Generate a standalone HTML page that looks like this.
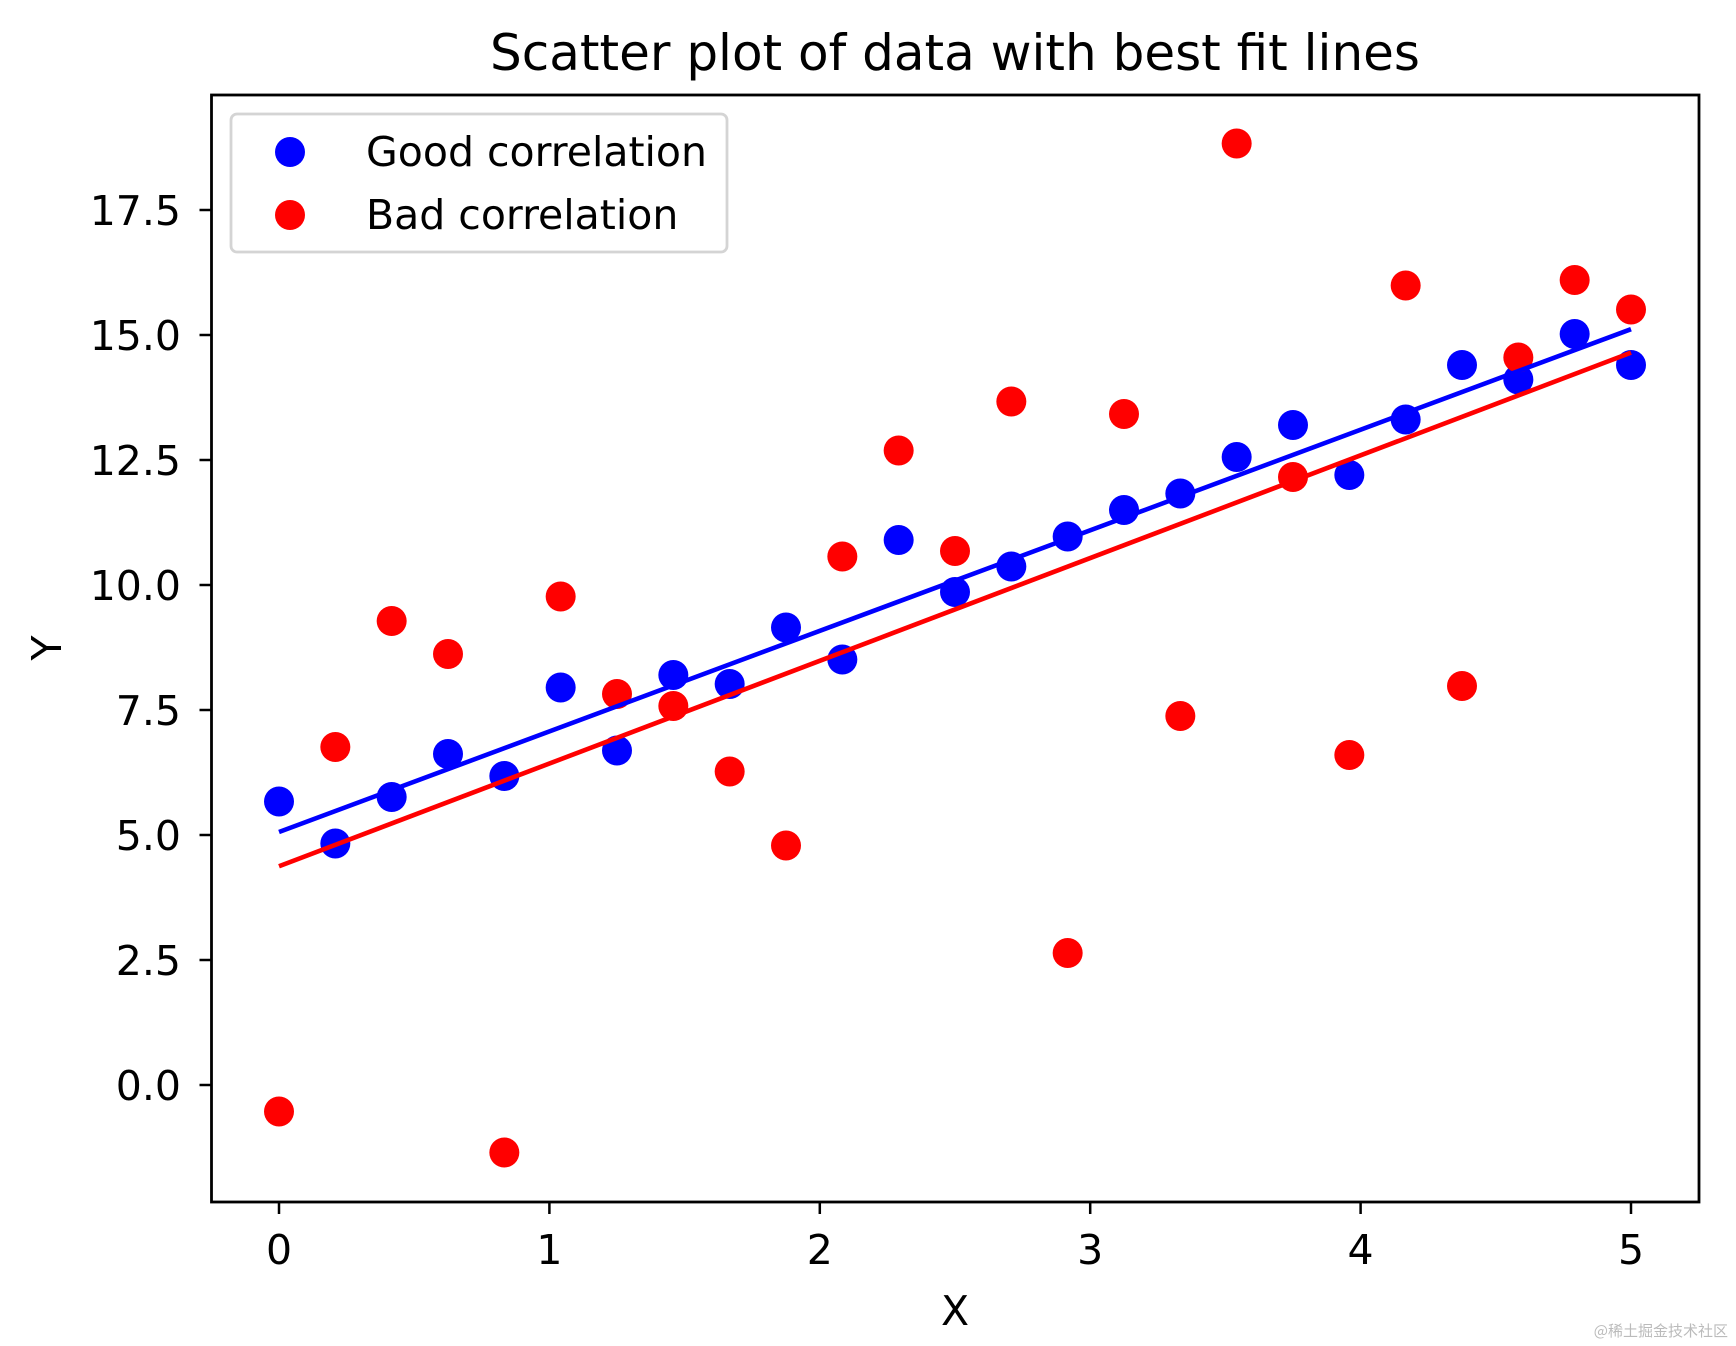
<!DOCTYPE html>
<html><head><meta charset="utf-8"><style>
body{margin:0;background:#fff}
svg{display:block;font-family:"DejaVu Sans","Liberation Sans",sans-serif}
</style></head><body>
<svg id="chart" width="1736" height="1346" viewBox="0 0 1736 1346" xmlns="http://www.w3.org/2000/svg">
<rect width="1736" height="1346" fill="#fff"/>
<text x="955" y="70" font-size="50" text-anchor="middle">Scatter plot of data with best fit lines</text>
<g id="plot"></g>
<rect x="211.5" y="95" width="1487.5" height="1107" fill="none" stroke="#000" stroke-width="2.8"/>
<g id="ticks"></g>
<text x="955" y="1325" font-size="41" text-anchor="middle">X</text>
<text x="61" y="648" font-size="41" text-anchor="middle" transform="rotate(-90 61 648)">Y</text>
<g>
<rect x="231" y="114" width="496" height="138" rx="6" fill="#fff" fill-opacity="0.8" stroke="#d4d4d4" stroke-width="2.8"/>
<circle cx="290" cy="152" r="15" fill="#0000ff"/>
<text x="366" y="166" font-size="41">Good correlation</text>
<circle cx="290" cy="215" r="15" fill="#ff0000"/>
<text x="366" y="229" font-size="41">Bad correlation</text>
</g>
<text x="1728" y="1336" font-size="15" fill="#bbb" text-anchor="end" font-family="'Noto Sans CJK SC',sans-serif">@稀土掘金技术社区</text>
</svg>
<script>
const goodY = [5.67,4.83,5.76,6.62,6.18,7.95,6.69,8.2,8.02,9.15,8.51,10.9,9.86,10.37,10.97,11.5,11.83,12.56,13.2,12.2,13.31,14.4,14.11,15.02,14.4];
const badY = [-0.53,6.76,9.28,8.62,-1.35,9.77,7.82,7.58,6.27,4.79,10.57,12.69,10.68,13.67,2.64,13.42,7.38,18.83,12.16,6.6,15.99,7.98,14.55,16.1,15.51];
const xTicks = [0,1,2,3,4,5];
const yTicks = [0.0,2.5,5.0,7.5,10.0,12.5,15.0,17.5];
const xMin = 0, xMax = 5;

const NS = 'http://www.w3.org/2000/svg';
const sx = v => 279 + v * 270.4;
const sy = v => 1085 - v * 50;
const xs = goodY.map((_, i) => xMin + (xMax - xMin) * i / (goodY.length - 1));
const plot = document.getElementById('plot');
const ticks = document.getElementById('ticks');
function mk(tag, attrs, parent){const e=document.createElementNS(NS,tag);for(const k in attrs)e.setAttribute(k,attrs[k]);parent.appendChild(e);return e;}
function fit(ys){const n=ys.length;let mx=0,my=0;for(let i=0;i<n;i++){mx+=xs[i];my+=ys[i];}mx/=n;my/=n;let a=0,b=0;for(let i=0;i<n;i++){a+=(xs[i]-mx)*(ys[i]-my);b+=(xs[i]-mx)**2;}const m=a/b;return [m,my-m*mx];}
function series(ys, color, name){
  ys.forEach((v,i)=>{
    const c = mk('circle',{cx:sx(xs[i]),cy:sy(v),r:15,fill:color},plot);
    
    
  });
}
series(goodY,'#0000ff','good');
series(badY,'#ff0000','bad');
[[goodY,'#0000ff','good'],[badY,'#ff0000','bad']].forEach(([ys,col,name])=>{
  const [m,b]=fit(ys);
  const l = mk('line',{x1:sx(xMin),y1:sy(b+m*xMin),x2:sx(xMax),y2:sy(b+m*xMax),stroke:col,'stroke-width':4.6},plot);
  
  
});
xTicks.forEach(t=>{
  const tl = mk('line',{x1:sx(t),y1:1202,x2:sx(t),y2:1214,stroke:'#000','stroke-width':2.5},ticks);
  
  
  const tx = mk('text',{x:sx(t),y:1264,'font-size':41,'text-anchor':'middle'},ticks);
  tx.textContent = String(t);
  
  
});
yTicks.forEach(t=>{
  const tl = mk('line',{x1:199.5,y1:sy(t),x2:211.5,y2:sy(t),stroke:'#000','stroke-width':2.5},ticks);
  
  
  const tx = mk('text',{x:181,y:sy(t)+15,'font-size':41,'text-anchor':'end'},ticks);
  tx.textContent = t.toFixed(1);
  
  
});
</script>
</body></html>
